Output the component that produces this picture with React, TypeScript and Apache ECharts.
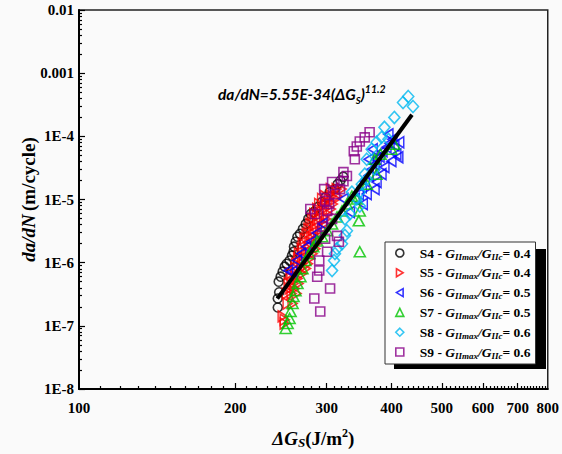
import React, { useEffect, useRef } from "react";
import * as echarts from "echarts";

// ---------- data ----------
const xLabelValues = [100, 200, 300, 400, 500, 600, 700, 800];
const xMajorTicks = [200, 300, 400, 500, 600, 700];
const yLabelValues = [1e-8, 1e-7, 1e-6, 1e-5, 1e-4, 1e-3, 1e-2];
const yLabelTexts = ["1E-8", "1E-7", "1E-6", "1E-5", "1E-4", "0.001", "0.01"];

const s4 = [
  [241.5, 1.95e-7], [241.5, 2.71e-7], [243, 3.4e-7], [242.5, 5.0e-7], [244.6, 6.0e-7], [246.8, 7.2e-7],
  [249, 8.65e-7], [251.2, 9.6e-7], [254.5, 1.08e-6], [257.2, 1.29e-6], [259, 1.49e-6],
  [259.5, 1.79e-6], [261.5, 2.14e-6], [263.5, 2.57e-6], [266.5, 2.86e-6], [270, 3.43e-6],
  [273.5, 4.11e-6], [276.5, 4.93e-6], [279.5, 5.9e-6], [283.5, 6.35e-6], [288.5, 7.6e-6],
  [293.5, 9.1e-6], [298.5, 1.09e-5], [304, 1.31e-5], [311, 1.46e-5], [315, 1.75e-5],
  [319, 2.0e-5], [323, 2.3e-5],
];
const s5 = [
  [249, 1.09e-7], [246.8, 1.41e-7], [249, 1.25e-7], [252.3, 2.26e-7], [257.9, 2.26e-7],
  [251.2, 3.25e-7], [256.7, 3.25e-7], [262.4, 3.25e-7], [254.5, 3.9e-7], [260.2, 3.9e-7],
  [253.4, 4.67e-7], [259, 4.67e-7], [264.8, 4.67e-7], [256.7, 5.6e-7], [263.6, 5.6e-7],
  [255.5, 6.71e-7], [262.3, 6.71e-7], [269.3, 6.71e-7], [260.9, 8.05e-7], [267.8, 8.05e-7],
  [273.6, 8.05e-7], [262, 9.64e-7], [268.9, 9.64e-7], [276, 9.64e-7], [264.3, 1.16e-6],
  [271.3, 1.16e-6], [278.4, 1.16e-6], [265.3, 1.39e-6], [273.5, 1.39e-6], [281.8, 1.39e-6],
  [268.6, 1.66e-6], [276.8, 1.66e-6], [285.3, 1.66e-6], [269.8, 1.99e-6], [278, 1.99e-6],
  [286.5, 1.99e-6], [272.1, 2.39e-6], [280.4, 2.39e-6], [289, 2.39e-6], [274.5, 2.86e-6],
  [282.8, 2.86e-6], [291.5, 2.86e-6], [276.8, 3.43e-6], [285.3, 3.43e-6], [294, 3.43e-6],
  [279.2, 4.11e-6], [287.7, 4.11e-6], [296.6, 4.11e-6], [281.6, 4.93e-6], [290.2, 4.93e-6],
  [299.1, 4.93e-6], [284, 5.91e-6], [292.7, 5.91e-6], [301.7, 5.91e-6], [287.7, 7.08e-6],
  [296.6, 7.08e-6], [305.6, 7.08e-6], [290.2, 8.49e-6], [299.1, 8.49e-6], [308.3, 8.49e-6],
  [294, 1.02e-5], [303, 1.02e-5], [312.3, 1.02e-5], [297.8, 1.13e-5], [307, 1.13e-5],
  [314.9, 1.13e-5], [305.6, 1.46e-5], [313.6, 1.46e-5], [320.5, 1.46e-5],
];
const s6 = [
  [339.9, 1.02e-5], [346, 1.22e-5], [350.6, 1.57e-5], [355.2, 1.95e-5], [361.5, 2.4e-5],
  [366.3, 3.02e-5], [371.1, 3.62e-5], [374.4, 4.34e-5], [379.4, 4.8e-5], [384.4, 5.8e-5],
  [391.2, 6.7e-5], [396.5, 7.75e-5], [401.5, 8.97e-5], [405.1, 7.2e-5], [408.7, 5.2e-5],
  [412.3, 4.67e-5], [399.8, 4.05e-5], [387.7, 3.25e-5], [382.7, 2.52e-5], [374.4, 1.89e-5],
  [371.1, 1.46e-5], [358.4, 1.22e-5], [352.2, 8.49e-6], [361.5, 4.34e-5], [368, 6.24e-5],
  [394.6, 1.075e-4], [414, 8.05e-5], [253, 7.5e-7], [257.5, 7.2e-7], [263, 1.08e-6],
  [268, 1.39e-6], [274, 1.79e-6], [280, 2.14e-6], [287, 2.95e-6], [294.5, 4.11e-6],
  [323.2, 1.02e-5], [332.6, 6.35e-6],
];
const s7 = [
  [250.1, 9.1e-8], [252.3, 1.09e-7], [254.5, 1.31e-7], [255.6, 1.69e-7], [257.9, 2.26e-7],
  [259, 2.92e-7], [261.3, 3.6e-7], [263.6, 4.67e-7], [267.1, 6.0e-7], [269.5, 8.05e-7],
  [273, 1.08e-6], [277.8, 1.39e-6], [282.7, 1.79e-6], [287.7, 2.2e-6], [294.1, 2.57e-6],
  [300.6, 3.2e-6], [307.3, 4.11e-6], [314.1, 5.3e-6], [321.1, 6.6e-6], [328.2, 8.49e-6],
  [335.5, 1.13e-5], [342.9, 1.02e-5], [347.5, 6.6e-6], [346, 4.6e-6], [347.5, 1.49e-6],
  [371.1, 4.34e-5], [381, 5.21e-5], [399.8, 6.24e-5], [405.1, 7.48e-5], [358.4, 1.75e-5],
  [374.4, 2.52e-5],
];
const s8 = [
  [430.8, 4.27e-4], [421, 3.43e-4], [440, 2.97e-4], [405.1, 1.99e-4], [387.7, 1.39e-4],
  [382.7, 9.64e-5], [394.6, 8.97e-5], [374.4, 8.05e-5], [366.3, 6.24e-5], [358.4, 4.34e-5],
  [355.2, 2.52e-5], [350.6, 1.75e-5], [335.5, 1.31e-5], [347.5, 1.31e-5], [342.9, 1.02e-5],
  [347.5, 7.9e-6], [332.6, 5.91e-6], [325.3, 4.93e-6], [328.2, 3.2e-6], [325.3, 2.7e-6],
  [314.1, 1.66e-6], [311.3, 1.39e-6], [310, 1.08e-6], [307.3, 7.5e-7], [321.1, 1.99e-6],
  [358.4, 2.1e-5], [371.1, 3.02e-5],
];
const s9 = [
  [363, 1.16e-4], [355.2, 9.64e-5], [347.5, 8.3e-5], [342.9, 6.9e-5], [338.4, 5.8e-5],
  [339.9, 4.34e-5], [323.2, 2.71e-5], [328.2, 2.35e-5], [323.2, 1.95e-5], [318.3, 1.46e-5],
  [311.3, 1.22e-5], [298, 9.5e-6], [300.6, 6.6e-6], [294.1, 3.69e-6], [298, 2.39e-6],
  [316.7, 2.14e-6], [300.6, 1.49e-6], [314.1, 2.66e-6], [284, 2.71e-7], [291.6, 1.69e-7],
  [304.6, 3.9e-7], [287.7, 6.0e-7], [290.3, 7.5e-7], [290.3, 1.08e-6], [307.3, 4.93e-6],
  [303.3, 8.49e-6], [285.2, 5.9e-6], [279, 7.08e-6], [296.7, 1.46e-5], [307.3, 1.89e-5],
];
// regression line end points da/dN = 5.55E-34 (dGs)^11.2
const fitLine = [[241, 2.7e-7], [438, 2.2e-4]];

const seriesNames = ["S4", "S5", "S6", "S7", "S8", "S9"];
const seriesRatios = ["0.4", "0.4", "0.5", "0.5", "0.6", "0.6"];
const seriesData = [s4, s5, s6, s7, s8, s9];

// ---------- styles ----------
const serif = '"Liberation Serif", "Times New Roman", serif';
const eqFont = 'Lato, "DejaVu Sans", sans-serif';
const colors = ["#000000", "#ff0000", "#0000ff", "#00c400", "#00b8f0", "#880088"];
const symbols = [
  "circle",
  "path://M0,0L10,6L0,12Z",
  "path://M10,0L0,6L10,12Z",
  "triangle",
  "diamond",
  "rect",
];
const sizes = [9, [9, 11], [9, 11], [11, 10], [11, 12], 9];

const xMinorTicks: number[] = [];
for (let v = 110; v < 800; v += 10) if (v % 100 !== 0) xMinorTicks.push(v);
const yMinorTicks: number[] = [];
for (let e = -8; e < -2; e++) for (let m = 2; m <= 9; m++) yMinorTicks.push(m * Math.pow(10, e));

export default function App() {
  const ref = useRef<HTMLDivElement>(null);
  useEffect(() => {
    if (!ref.current) return;
    const chart = echarts.init(ref.current, null, { renderer: "svg" });
    const axisLine = { show: true, onZero: false, lineStyle: { color: "#000", width: 2 } };
    const tickStyle = { color: "#000", width: 1.2 };
    const labelBase = { color: "#000", fontFamily: serif, fontWeight: "bold", fontSize: 15 };
    const option: any = {
      animation: false,
      backgroundColor: "transparent",
      grid: {
        left: 79, right: 7, top: 10, bottom: 63,
        show: true, borderColor: "#222", borderWidth: 1.5, backgroundColor: "transparent",
      },
      xAxis: [
        {
          type: "log", logBase: 10, min: 100, max: 800, position: "bottom",
          axisLine,
          axisTick: { show: true, inside: true, length: 6, customValues: xMajorTicks, lineStyle: tickStyle },
          axisLabel: { ...labelBase, show: true, customValues: xLabelValues, margin: 11,
            formatter: (v: number) => String(Math.round(v)) },
          splitLine: { show: false }, minorTick: { show: false },
          name: "{i|ΔG}{s|S}{n|(J/m}{p|2}{n|)}",
          nameLocation: "middle", nameGap: 38, nameMoveOverlap: false,
          nameTextStyle: {
            rich: {
              i: { fontFamily: serif, fontWeight: "bold", fontStyle: "italic", fontSize: 19, lineHeight: 22, color: "#000" },
              s: { fontFamily: serif, fontWeight: "bold", fontStyle: "italic", fontSize: 13, lineHeight: 13, verticalAlign: "bottom", color: "#000" },
              n: { fontFamily: serif, fontWeight: "bold", fontSize: 19, lineHeight: 22, color: "#000" },
              p: { fontFamily: serif, fontWeight: "bold", fontSize: 12, lineHeight: 12, verticalAlign: "top", color: "#000" },
            },
          },
        },
        {
          type: "log", logBase: 10, min: 100, max: 800, position: "bottom",
          axisLine: { show: false },
          axisTick: { show: true, inside: true, length: 3, customValues: xMinorTicks, lineStyle: tickStyle },
          axisLabel: { show: false }, splitLine: { show: false },
        },
      ],
      yAxis: [
        {
          type: "log", logBase: 10, min: 1e-8, max: 1e-2, position: "left",
          axisLine,
          axisTick: { show: true, inside: true, length: 6, customValues: yLabelValues, lineStyle: tickStyle },
          axisLabel: { ...labelBase, show: true, customValues: yLabelValues, margin: 5,
            formatter: (v: number) => yLabelTexts[Math.round(Math.log10(v)) + 8] },
          splitLine: { show: false }, minorTick: { show: false },
          name: "{i|da/dN} {n|(m/cycle)}",
          nameLocation: "middle", nameRotate: 90, nameGap: 41, nameMoveOverlap: false,
          nameTextStyle: {
            rich: {
              i: { fontFamily: serif, fontWeight: "bold", fontStyle: "italic", fontSize: 19, color: "#000" },
              n: { fontFamily: serif, fontWeight: "bold", fontSize: 19, color: "#000" },
            },
          },
        },
        {
          type: "log", logBase: 10, min: 1e-8, max: 1e-2, position: "left",
          axisLine: { show: false },
          axisTick: { show: true, inside: true, length: 3, customValues: yMinorTicks, lineStyle: tickStyle },
          axisLabel: { show: false }, splitLine: { show: false },
        },
      ],
      legend: {
        orient: "vertical", left: 385, top: 242, z: 10,
        backgroundColor: "#fdfdfd", borderColor: "#333", borderWidth: 1,
        padding: [4, 5, 4, 10], itemGap: 4.8, itemWidth: 8, itemHeight: 8,
        selectedMode: false,
        data: seriesNames.map((n, i) => ({
          name: n,
          icon: symbols[i],
          itemStyle: { color: "transparent", borderColor: colors[i], borderWidth: 1.6 },
        })),
        formatter: (name: string) => {
          const r = seriesRatios[seriesNames.indexOf(name)];
          return `{f|${name} - }{i|G}{s|IImax}{i|/G}{s|IIc}{a|= ${r}}`;
        },
        textStyle: {
          color: "#000", fontFamily: serif, fontWeight: "bold", fontSize: 13.5,
          rich: {
            f: { fontFamily: serif, fontWeight: "bold", fontSize: 13.5, lineHeight: 16, padding: [0, 0, 0, 11], color: "#000" },
            a: { fontFamily: serif, fontWeight: "bold", fontSize: 13.5, lineHeight: 16, color: "#000" },
            i: { fontFamily: serif, fontWeight: "bold", fontStyle: "italic", fontSize: 13.5, lineHeight: 16, color: "#000" },
            s: { fontFamily: serif, fontWeight: "bold", fontStyle: "italic", fontSize: 9, lineHeight: 10, verticalAlign: "bottom", color: "#000" },
          },
        },
      },
      graphic: [
        {
          type: "rect", z: 1, silent: true,
          shape: { x: 394, y: 249, width: 152, height: 120 },
          style: { fill: "#000" },
        },
        {
          type: "text", left: 218, top: 83, z: 20,
          style: {
            text: "{m|da/dN=5.55E-34(}{m|ΔG}{s|S}{m|)}{p|11.2}",
            rich: {
              m: { fontFamily: eqFont, fontWeight: "bold", fontStyle: "italic", fontSize: 15.5, lineHeight: 22, fill: "#000" },
              s: { fontFamily: eqFont, fontWeight: "bold", fontStyle: "italic", fontSize: 9.5, lineHeight: 12, verticalAlign: "bottom", fill: "#000" },
              p: { fontFamily: eqFont, fontWeight: "bold", fontStyle: "italic", fontSize: 10.5, lineHeight: 12, verticalAlign: "top", fill: "#000" },
            },
          },
        },
      ],
      series: [
        ...seriesNames.map((n, i) => ({
          name: n, type: "scatter", data: seriesData[i],
          symbol: symbols[i], symbolSize: sizes[i],
          itemStyle: { color: "transparent", borderColor: colors[i], borderWidth: 1.6 },
          emphasis: { disabled: true },
        })),
        {
          name: "fit", type: "line", data: fitLine, symbol: "none", z: 10,
          lineStyle: { color: "#000", width: 4 }, silent: true,
        },
      ],
    };
    chart.setOption(option);
    return () => chart.dispose();
  }, []);
  return (
    <div style={{ position: "fixed", left: 0, top: 0, width: 562, height: 454, background: "#fafafa" }}>
      <div ref={ref} style={{ width: 562, height: 454 }} />
    </div>
  );
}
